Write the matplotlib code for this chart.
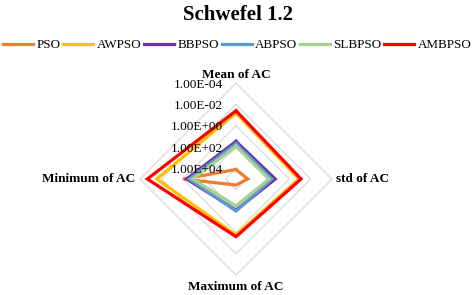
import numpy as np
import matplotlib
matplotlib.use("Agg")
import matplotlib.pyplot as plt

plt.rcParams['font.family'] = ['Liberation Serif', 'DejaVu Serif']

# axes of the radar, clockwise from the top
categories = ['Mean of AC', 'std of AC', 'Maximum of AC', 'Minimum of AC']
algorithms = ['PSO', 'AWPSO', 'BBPSO', 'ABPSO', 'SLBPSO', 'AMBPSO']
colors = ['#ED7D31', '#FFC000', '#7030A0', '#5B9BD5', '#A9D18E', '#FF0000']

# values (mean, std, max, min)
pso = [1.3e4, 8.0e3, 2.7e4, 1.1e0]
awpso = [6.5e-2, 1.3e-1, 5.6e-1, 3.7e-3]
bbpso = [3.0e1, 2.1e1, 1.2e2, 2.4e0]
abpso = [4.9e1, 4.3e1, 1.0e2, 4.2e0]
slbpso = [8.7e1, 8.1e1, 3.0e2, 8.7e0]
ambpso = [4.0e-2, 8.0e-2, 3.9e-1, 4.9e-4]
series = [pso, awpso, bbpso, abpso, slbpso, ambpso]

tick_values = [1e4, 1e2, 1e0, 1e-2, 1e-4]
tick_labels = ['1.00E+04', '1.00E+02', '1.00E+00', '1.00E-02', '1.00E-04']

# reversed log axis: centre is 1E+05, outer ring 1E-04
center_exp = 5.0
angles = np.arange(len(categories)) * np.pi / 2


def radius(v):
    return center_exp - np.log10(np.asarray(v, dtype=float))


def closed_xy(r):
    r = np.broadcast_to(r, angles.shape)
    x = r * np.sin(angles)
    y = r * np.cos(angles)
    return np.append(x, x[0]), np.append(y, y[0])


PT = 72.0 / 100  # points per pixel at dpi 100

fig = plt.figure(figsize=(4.76, 2.95), dpi=100)
R_px = 115
r_out = radius(tick_values[-1])
half = R_px * r_out / 96.0
ax = fig.add_axes([(236 - R_px) / 476, (116 - R_px) / 295, 2 * R_px / 476, 2 * R_px / 295])
ax.set_xlim(-half, half)
ax.set_ylim(-half, half)
ax.axis('off')

# polygon grid
for tv in tick_values:
    x, y = closed_xy(radius(tv))
    ax.plot(x, y, color='#D9D9D9', lw=0.9, zorder=1)

# ring labels
for tv, tl in zip(tick_values, tick_labels):
    ax.annotate(tl, (0, radius(tv)), xytext=(-13 * PT, -1.5 * PT), textcoords='offset points',
                ha='right', va='center', fontsize=9.5, zorder=10)

# category labels
offsets = [(0, 2), (4, 0), (0, -6), (-5, 0)]
aligns = [('center', 'bottom'), ('left', 'center'), ('center', 'top'), ('right', 'center')]
for ang, cat, off, (ha, va) in zip(angles, categories, offsets, aligns):
    ax.annotate(cat, (r_out * np.sin(ang), r_out * np.cos(ang)),
                xytext=(off[0] * PT, off[1] * PT), textcoords='offset points',
                ha=ha, va=va, fontsize=9.5, fontweight='bold', annotation_clip=False)

# data
for name, vals, c in zip(algorithms, series, colors):
    x, y = closed_xy(radius(vals))
    ax.plot(x, y, color=c, lw=2.3, label=name, zorder=3, solid_joinstyle='miter')

fig.text(0.5, 1 - 20 / 295, 'Schwefel 1.2', ha='center', va='baseline',
         fontsize=15, fontweight='bold')
fig.legend(loc='center', bbox_to_anchor=(0.498, 1 - 45 / 295), ncol=6, frameon=False,
           fontsize=9.4, handlelength=2.3, handletextpad=0.25, columnspacing=0.22,
           borderaxespad=0, borderpad=0)

fig.savefig('out.png', dpi=100)
